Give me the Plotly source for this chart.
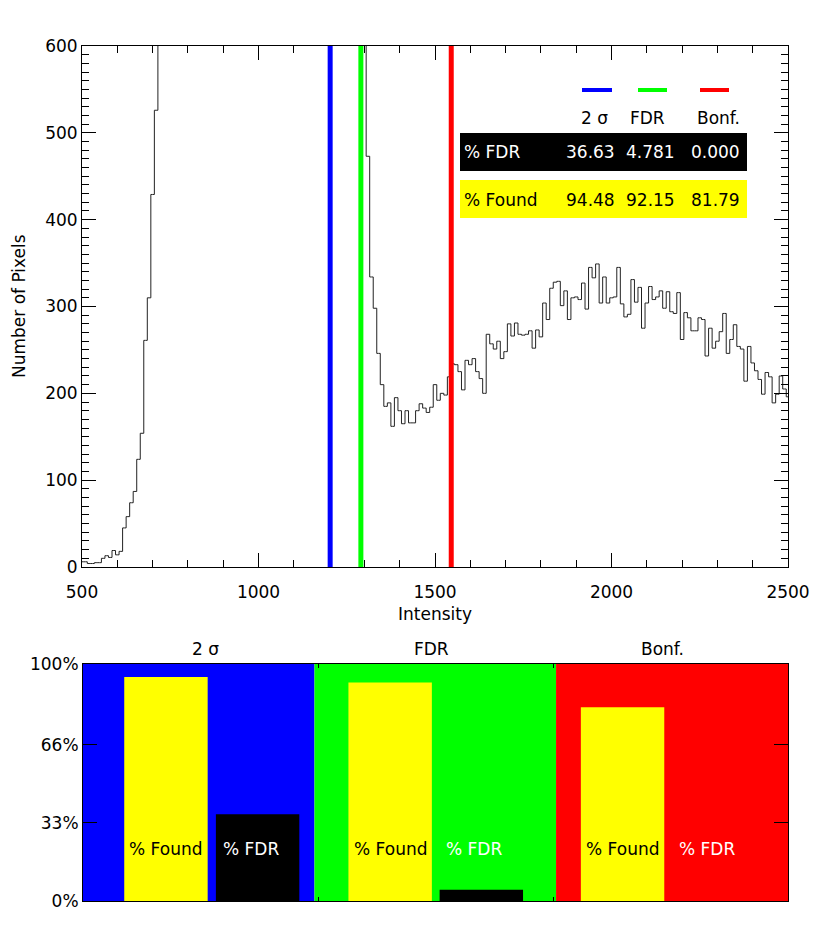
import plotly.graph_objects as go

# histogram of pixel intensities, bins of 10 starting at 500
bin_start = 500
bin_width = 10
counts = [
    6, 6, 4, 4, 5, 5, 10, 13, 11, 19, 14, 18, 45, 58, 74, 87, 124, 154, 261, 310, 429, 526,
    # 720 .. 1300, off the top of the plot
    640, 790, 950, 1130, 1340, 1560, 1790, 2020, 2260, 2480, 2700, 2890, 3060, 3200, 3310,
    3390, 3440, 3460, 3450, 3410, 3340, 3250, 3140, 3010, 2870, 2720, 2560, 2400, 2240, 2080,
    1930, 1790, 1660, 1540, 1430, 1330, 1240, 1160, 1090, 1030, 980, 940, 900, 870, 840,
    810, 790, 770, 750, 735, 720, 705, 690, 675, 660, 648, 636, 624, 612,
    # 1310 .. 2500
    473, 334, 298, 246, 210, 185, 189, 162, 195, 180, 165, 180, 166, 166, 180, 188, 183, 178,
    184, 210, 192, 200, 198, 219, 234, 233, 225, 204, 238, 233, 240, 225, 217, 200, 268, 257,
    251, 260, 240, 248, 280, 266, 281, 268, 267, 268, 272, 252, 273, 265, 304, 285, 321, 328,
    329, 301, 318, 285, 310, 311, 308, 327, 297, 345, 333, 349, 304, 334, 304, 310, 311, 345,
    303, 288, 291, 331, 305, 322, 275, 304, 323, 308, 311, 318, 298, 317, 294, 292, 316, 262,
    293, 287, 272, 272, 287, 285, 243, 275, 252, 260, 271, 292, 246, 262, 279, 254, 251, 214,
    254, 235, 226, 216, 199, 224, 219, 189, 199, 220, 205, 196,
]
intensity = [bin_start + bin_width * i for i in range(len(counts))]

methods = ["2 \u03c3", "FDR", "Bonf."]
thresholds = [1203, 1290, 1546]
pct_fdr = [36.63, 4.781, 0.0]
pct_found = [94.48, 92.15, 81.79]
pct_ticks = [0, 33, 66, 100]
pct_labels = ["0%", "33%", "66%", "100%"]

colors = ["#0000ff", "#00ff00", "#ff0000"]
# the page body adds 8px around the figure, so work in window pixels minus that
PAD = 8
W, H = 830 - PAD, 949 - PAD
FONT = "DejaVu Sans"


def px(x):
    return (x - PAD) / W


def py(y):
    return 1 - (y - PAD) / H


def fmt(v):
    return f"{v:.2f}" if v >= 10 else f"{v:.3f}"


fig = go.Figure()

fig.add_trace(go.Scatter(
    x=intensity, y=counts, mode="lines",
    line=dict(color="#222222", width=1, shape="hvh"),
    xaxis="x", yaxis="y", showlegend=False, hoverinfo="skip",
))

shapes = []
annotations = []

# threshold lines
for t, c in zip(thresholds, colors):
    shapes.append(dict(type="line", xref="x", yref="y domain", x0=t, x1=t, y0=0, y1=1,
                       line=dict(color=c, width=5)))

# legend / table in the upper panel
seg_x = [(582, 612), (638, 667), (700, 729)]
head_x = [610, 667, 742]
val_x = [617, 677, 742]
for (a, b), c in zip(seg_x, colors):
    shapes.append(dict(type="line", xref="paper", yref="paper", x0=px(a), x1=px(b),
                       y0=py(90), y1=py(90), line=dict(color=c, width=4)))
for m, xr in zip(methods, head_x):
    annotations.append(dict(text=m, x=px(xr), y=py(118), xref="paper", yref="paper",
                            xanchor="right", yanchor="middle", showarrow=False,
                            font=dict(color="black")))
shapes.append(dict(type="rect", xref="paper", yref="paper", x0=px(460), x1=px(747),
                   y0=py(133), y1=py(171), fillcolor="black", line=dict(width=0)))
shapes.append(dict(type="rect", xref="paper", yref="paper", x0=px(460), x1=px(747),
                   y0=py(180), y1=py(218), fillcolor="#ffff00", line=dict(width=0)))
annotations.append(dict(text="% FDR", x=px(462), y=py(152), xref="paper", yref="paper",
                        xanchor="left", yanchor="middle", showarrow=False,
                        font=dict(color="white")))
annotations.append(dict(text="% Found", x=px(462), y=py(200), xref="paper", yref="paper",
                        xanchor="left", yanchor="middle", showarrow=False,
                        font=dict(color="black")))
for v, xr in zip(pct_fdr, val_x):
    annotations.append(dict(text=fmt(v), x=px(xr), y=py(152), xref="paper", yref="paper",
                            xanchor="right", yanchor="middle", showarrow=False,
                            font=dict(color="white")))
for v, xr in zip(pct_found, val_x):
    annotations.append(dict(text=fmt(v), x=px(xr), y=py(200), xref="paper", yref="paper",
                            xanchor="right", yanchor="middle", showarrow=False,
                            font=dict(color="black")))

# axis titles for the upper panel
annotations.append(dict(text="Intensity", x=px(435), y=py(614), xref="paper", yref="paper",
                        xanchor="center", yanchor="middle", showarrow=False))
annotations.append(dict(text="Number of Pixels", x=px(19), y=py(306), xref="paper", yref="paper",
                        xanchor="center", yanchor="middle", showarrow=False, textangle=-90))

# lower panel: coloured bands and bars
bands = [(0, 0.985), (0.985, 2.013), (2.013, 3)]
for (a, b), c in zip(bands, colors):
    shapes.append(dict(type="rect", xref="x2", yref="y2 domain", x0=a, x1=b, y0=0, y1=1,
                       fillcolor=c, line=dict(width=0), layer="below"))

found_pos = [0.353, 1.307, 2.296]
fdr_pos = [0.743, 1.695, 2.686]
bar_w = 0.355

fig.add_trace(go.Bar(x=found_pos, y=pct_found, width=bar_w, marker=dict(color="#ffff00", line=dict(width=0)),
                     xaxis="x2", yaxis="y2", showlegend=False, hoverinfo="skip"))
fig.add_trace(go.Bar(x=fdr_pos, y=pct_fdr, width=bar_w, marker=dict(color="black", line=dict(width=0)),
                     xaxis="x2", yaxis="y2", showlegend=False, hoverinfo="skip"))

for p in found_pos:
    annotations.append(dict(text="% Found", x=p, y=22, xref="x2", yref="y2",
                            xanchor="center", yanchor="middle", showarrow=False,
                            font=dict(color="black")))
for p in fdr_pos:
    annotations.append(dict(text="% FDR", x=p - bar_w / 2 + 0.02, y=22, xref="x2", yref="y2",
                            xanchor="left", yanchor="middle", showarrow=False,
                            font=dict(color="white")))

title_pos = [0.523, 1.485, 2.468]
for m, p in zip(methods, title_pos):
    annotations.append(dict(text=m, x=p, y=py(649), xref="x2", yref="paper",
                            xanchor="center", yanchor="middle", showarrow=False))

axis_common = dict(showline=True, linecolor="black", linewidth=1, mirror="allticks",
                   showgrid=False, zeroline=False, ticks="inside", tickcolor="black",
                   automargin=False)

fig.update_layout(
    width=W, height=H,
    margin=dict(l=0, r=0, t=0, b=0, pad=0, autoexpand=False),
    paper_bgcolor="white", plot_bgcolor="white",
    font=dict(family=FONT, size=17, color="black"),
    barmode="overlay",
    shapes=shapes,
    annotations=annotations,
    xaxis=dict(domain=[px(82), px(788)], range=[500, 2500], tick0=500, dtick=500,
               ticklen=14, anchor="y", ticklabelstandoff=10,
               minor=dict(dtick=100, ticks="inside", ticklen=7, tickcolor="black"),
               **axis_common),
    yaxis=dict(domain=[py(567), py(46)], range=[0, 600], tick0=0, dtick=100,
               ticklen=14, anchor="x",
               minor=dict(dtick=10, ticks="inside", ticklen=7, tickcolor="black"),
               **axis_common),
    xaxis2=dict(domain=[px(83), px(788)], range=[0, 3], tickvals=[1, 2], ticklen=4,
                showticklabels=False, anchor="y2", **axis_common),
    yaxis2=dict(domain=[py(901), py(664)], range=[0, 100], tickvals=pct_ticks,
                ticktext=pct_labels, ticklen=14, anchor="x2", **axis_common),
)

fig.write_html("out.html")
